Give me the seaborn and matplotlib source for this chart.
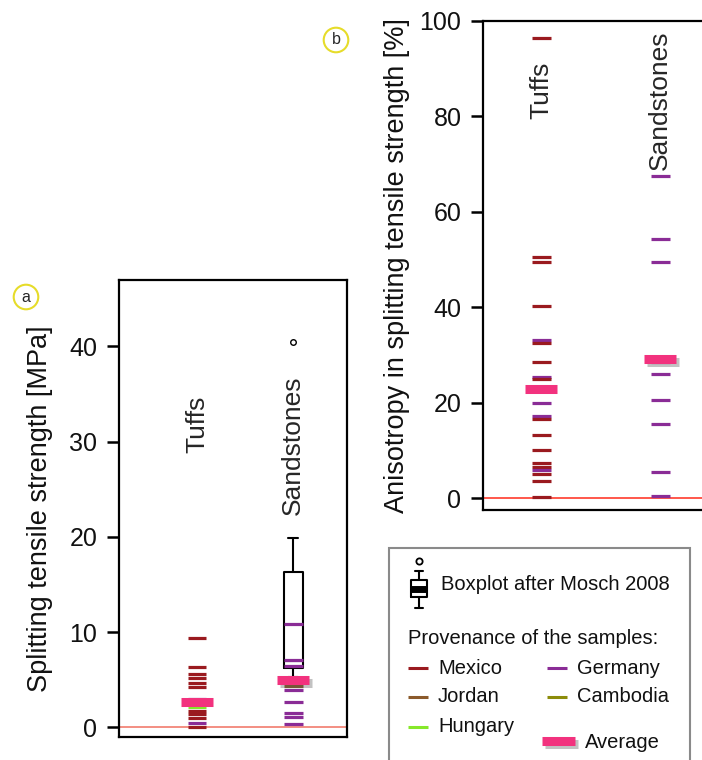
import numpy as np
import pandas as pd
import matplotlib
matplotlib.use('Agg')
import matplotlib.pyplot as plt
import matplotlib.patheffects as pe
from matplotlib.lines import Line2D
from matplotlib.patches import Rectangle
import seaborn as sns

# --- data ---
rocks = ['Tuffs', 'Sandstones']

# panel a: splitting tensile strength [MPa]
tuff_a_vals = [9.4, 6.3, 5.6, 5.2, 4.65, 4.2, 3.0, 2.2, 1.75, 1.4, 1.0, 0.5, 0.1]
tuff_a_prov = ['Mexico', 'Mexico', 'Mexico', 'Mexico', 'Mexico', 'Mexico', 'Germany',
               'Hungary', 'Mexico', 'Mexico', 'Mexico', 'Germany', 'Mexico']
sand_a_vals = [10.9, 7.1, 6.4, 4.4, 3.9, 2.7, 1.5, 1.1, 0.35]
sand_a_prov = ['Germany', 'Germany', 'Germany', 'Jordan', 'Germany',
               'Germany', 'Germany', 'Germany', 'Germany']
avg_a = [2.65, 4.98]

# boxplot (after Mosch 2008) for sandstones, panel a
box_sand = {'q1': 6.2, 'med': 7.0, 'q3': 16.35, 'whislo': 5.27, 'whishi': 19.9}
box_sand_fliers = [40.4]

# panel b: anisotropy in splitting tensile strength [%]
tuff_b_vals = [96.4, 50.6, 49.6, 40.3, 33.2, 32.5, 28.6, 25.5, 24.9, 19.9, 17.3,
               16.6, 13.2, 10.1, 7.3, 6.6, 5.9, 5.0, 3.6, 0.3]
tuff_b_prov = ['Mexico', 'Mexico', 'Mexico', 'Mexico', 'Germany', 'Mexico', 'Mexico',
               'Germany', 'Mexico', 'Germany', 'Germany', 'Mexico', 'Mexico', 'Mexico',
               'Mexico', 'Mexico', 'Germany', 'Mexico', 'Mexico', 'Mexico']
sand_b_vals = [67.5, 54.3, 49.5, 29.7, 28.6, 26.0, 20.7, 15.6, 5.5, 0.4]
sand_b_prov = ['Germany'] * 10
avg_b = [22.9, 29.1]

colors = {'Mexico': '#9a1a1f', 'Germany': '#8a2c96', 'Jordan': '#8b5a2b',
          'Cambodia': '#8c8c0a', 'Hungary': '#86e82a'}
avg_color = '#f2327e'

df_a = pd.DataFrame({'rock': ['Tuffs'] * len(tuff_a_vals) + ['Sandstones'] * len(sand_a_vals),
                     'value': tuff_a_vals + sand_a_vals,
                     'provenance': tuff_a_prov + sand_a_prov})
df_b = pd.DataFrame({'rock': ['Tuffs'] * len(tuff_b_vals) + ['Sandstones'] * len(sand_b_vals),
                     'value': tuff_b_vals + sand_b_vals,
                     'provenance': tuff_b_prov + sand_b_prov})
avg_a_df = pd.DataFrame({'rock': rocks, 'value': avg_a})
avg_b_df = pd.DataFrame({'rock': rocks, 'value': avg_b})

sns.set_theme(style='white')
plt.rcParams['font.family'] = ['Liberation Sans', 'DejaVu Sans']

W, H = 702, 760
fig = plt.figure(figsize=(W / 100, H / 100), dpi=100, facecolor='white')


def px(x0, y0, x1, y1):
    # pixel box -> figure fraction [left, bottom, width, height]
    return [x0 / W, 1 - y1 / H, (x1 - x0) / W, (y1 - y0) / H]


shadow = [pe.SimpleLineShadow(offset=(2, -2), shadow_color='#505050', alpha=0.35),
          pe.Normal()]

ax_a = fig.add_axes(px(119, 280, 347, 737))
ax_b = fig.add_axes(px(483, 21, 702, 510))


def draw_panel(ax, df, avg_df, zero_color):
    ax.axhline(0, color=zero_color, lw=1.1, zorder=1)
    sns.stripplot(data=df, x='rock', y='value', hue='provenance', order=rocks,
                  palette=colors, marker='_', size=13.5, linewidth=2.3,
                  jitter=False, legend=False, ax=ax, zorder=4)
    sns.stripplot(data=avg_df, x='rock', y='value', order=rocks, color=avg_color,
                  marker='_', size=23, linewidth=6.5, jitter=False, ax=ax, zorder=5)
    ax.collections[-1].set_path_effects(shadow)
    ax.set_xlabel('')
    ax.set_xticks([])
    for s in ax.spines.values():
        s.set_color('black')
        s.set_linewidth(1.6)
    ax.tick_params(axis='y', which='both', left=True, length=8.5, width=1.8,
                   pad=7, labelsize=18, color='black', labelcolor='#111111')


# ----- panel a -----
stats = dict(box_sand, fliers=box_sand_fliers)
ax_a.bxp([stats], positions=[1], widths=0.2, showfliers=True,
         boxprops=dict(color='black', lw=1.5),
         whiskerprops=dict(color='black', lw=1.5),
         capprops=dict(color='black', lw=1.5),
         medianprops=dict(color='black', lw=1.5),
         flierprops=dict(marker='o', markersize=4, markerfacecolor='white',
                         markeredgecolor='black', markeredgewidth=1),
         zorder=3)
draw_panel(ax_a, df_a, avg_a_df, '#f07060')
ax_a.set_xlim(-0.81, 1.56)
ax_a.set_ylim(-1.0, 46.95)
ax_a.set_yticks([0, 10, 20, 30, 40])
ax_a.set_ylabel('Splitting tensile strength [MPa]', fontsize=19.5, color='#111111',
                labelpad=12)
ax_a.text(0, 31.8, 'Tuffs', rotation=90, ha='center', va='center', fontsize=19)
ax_a.text(1, 29.6, 'Sandstones', rotation=90, ha='center', va='center', fontsize=19)

# ----- panel b -----
draw_panel(ax_b, df_b, avg_b_df, '#ff2a1a')
ax_b.spines['right'].set_visible(False)
ax_b.set_xlim(-0.49, 1.35)
ax_b.set_ylim(-2.45, 100)
ax_b.set_yticks([0, 20, 40, 60, 80, 100])
ax_b.set_ylabel('Anisotropy in splitting tensile strength [%]', fontsize=19.5,
                color='#111111', labelpad=7)
ax_b.text(0, 85.4, 'Tuffs', rotation=90, ha='center', va='center', fontsize=19)
ax_b.text(1, 83.5, 'Sandstones', rotation=90, ha='center', va='center', fontsize=19)

# ----- panel letters -----
for (x, y, lab) in [(26, 297, 'a'), (336, 40, 'b')]:
    fig.text(x / W, 1 - y / H, lab, ha='center', va='center', fontsize=11.5,
             bbox=dict(boxstyle='circle,pad=0.3', fc='white', ec='#e6dc2a', lw=1.5))

# ----- legend box -----
fig.add_artist(Rectangle((389 / W, 1 - 775 / H), (690 - 389) / W, (775 - 548) / H,
                         transform=fig.transFigure, fill=False, ec='#8a8a8a', lw=1.5))

# mini boxplot icon
ax_i = fig.add_axes(px(404, 555, 434, 612))
ax_i.bxp([{'q1': 1.0, 'med': 1.6, 'q3': 2.2, 'whislo': 0.3, 'whishi': 2.8,
           'fliers': [3.5]}], positions=[0], widths=0.62,
         boxprops=dict(color='black', lw=1.5), whiskerprops=dict(color='black', lw=1.5),
         capprops=dict(color='black', lw=1.5), medianprops=dict(color='black', lw=5),
         flierprops=dict(marker='o', markersize=4.5, markerfacecolor='white',
                         markeredgecolor='black', markeredgewidth=1.3))
ax_i.set_xlim(-0.6, 0.6)
ax_i.set_ylim(0, 3.9)
ax_i.axis('off')


def ftxt(x, y, s, **kw):
    fig.text(x / W, 1 - y / H, s, va='center', ha='left', fontsize=14.5,
             color='#111111', **kw)


def fline(x0, x1, y, color, lw=2.2, **kw):
    fig.add_artist(Line2D([x0 / W, x1 / W], [1 - y / H, 1 - y / H], color=color,
                          lw=lw, solid_capstyle='butt', transform=fig.transFigure, **kw))


ftxt(441, 584, 'Boxplot after Mosch 2008')
ftxt(408, 638, 'Provenance of the samples:')
legend_items = [('Mexico', 408, 668), ('Germany', 547, 668), ('Jordan', 408, 697),
                ('Cambodia', 547, 697), ('Hungary', 408, 727)]
for name, x, y in legend_items:
    fline(x, x + 20, y, colors[name])
    ftxt(x + 30, y, name)
fline(542, 575, 741, avg_color, lw=6.5, path_effects=shadow)
ftxt(585, 742, 'Average')

fig.savefig('out.png', dpi=100, facecolor='white')
